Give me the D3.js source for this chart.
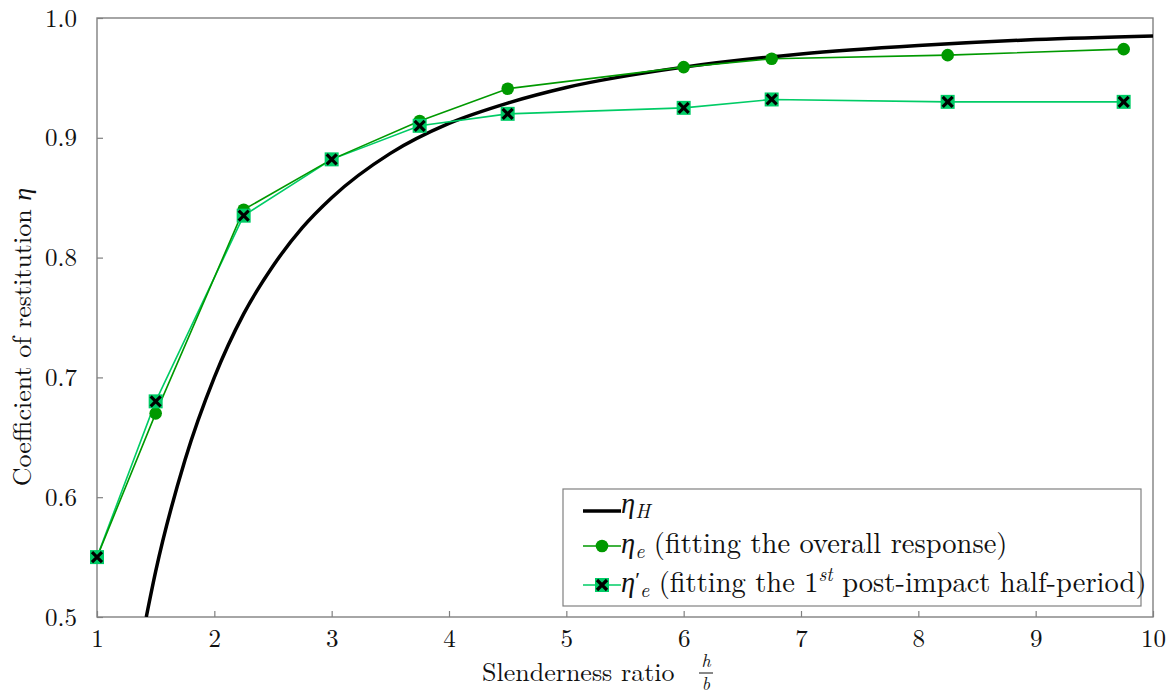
<!DOCTYPE html>
<html><head><meta charset="utf-8">
<script src="https://cdn.jsdelivr.net/npm/d3@7"></script>
<style>body{margin:0;background:#fff}svg{display:block}</style>
</head><body><svg id="c" width="1171" height="697"></svg>
<script>
const xTicks=[1,2,3,4,5,6,7,8,9,10];
const yTicks=[0.5,0.6,0.7,0.8,0.9,1.0];
const xData=[1,1.5,2.25,3,3.75,4.5,6,6.75,8.25,9.75];
const etaE=[0.55,0.67,0.84,0.882,0.914,0.941,0.959,0.966,0.969,0.974];
const etaE1=[0.55,0.68,0.835,0.882,0.91,0.92,0.925,0.932,0.930,0.930];
const hX=[1.42,1.5,1.75,2,2.25,2.5,2.75,3,3.5,4,4.5,5,6,7,8,9,10];
const hY=[0.50,0.538,0.631,0.70,0.753,0.793,0.825,0.85,0.887,0.912,0.929,0.942,0.959,0.970,0.977,0.982,0.985];

const FF="'Latin Modern Roman','Liberation Serif',serif";
const svg=d3.select('#c');
const L=97,R=1153,T=18,B=617;
const x=d3.scaleLinear().domain([1,10]).range([L,R]);
const y=d3.scaleLinear().domain([0.5,1.0]).range([B,T]);
const dark='#009900', light='#00cc66', axc='#808080';

svg.append('defs').append('clipPath').attr('id','clip').append('rect').attr('x',L).attr('y',T).attr('width',R-L).attr('height',B-T);

const gx=svg.append('g').attr('transform',`translate(0,${B})`).call(d3.axisBottom(x).tickValues(xTicks).tickSize(-6).tickPadding(12).tickFormat(d3.format('d')));
const gy=svg.append('g').attr('transform',`translate(${L},0)`).call(d3.axisLeft(y).tickValues(yTicks).tickSize(-6).tickPadding(20).tickFormat(d3.format('.1f')));
[gx,gy].forEach(g=>{g.attr('font-family',FF).attr('font-size',25);g.select('.domain').remove();g.selectAll('line').attr('stroke',axc).attr('stroke-width',1.2);g.selectAll('text').attr('fill','#111');});
svg.append('rect').attr('x',L).attr('y',T).attr('width',R-L).attr('height',B-T).attr('fill','none').attr('stroke',axc).attr('stroke-width',1.4);

const plot=svg.append('g').attr('clip-path','url(#clip)');
const lineH=d3.line().x((d,i)=>x(hX[i])).y(d=>y(d)).curve(d3.curveMonotoneX);
plot.append('path').attr('d',lineH(hY)).attr('fill','none').attr('stroke','#000').attr('stroke-width',3.5);

const ln=d3.line().x((d,i)=>x(xData[i])).y(d=>y(d));
plot.append('path').attr('d',ln(etaE1)).attr('fill','none').attr('stroke',light).attr('stroke-width',1.6);
plot.append('path').attr('d',ln(etaE)).attr('fill','none').attr('stroke',dark).attr('stroke-width',1.6);

function sqX(g,cx,cy){
  g.append('rect').attr('x',cx-7).attr('y',cy-7).attr('width',14).attr('height',14).attr('fill',light);
  g.append('path').attr('d',`M${cx-5},${cy-5}L${cx+5},${cy+5}M${cx-5},${cy+5}L${cx+5},${cy-5}`).attr('stroke','#000').attr('stroke-width',3.2);
}
const ms=svg.append('g');
etaE.forEach((v,i)=>ms.append('circle').attr('cx',x(xData[i])).attr('cy',y(v)).attr('r',6.3).attr('fill',dark));
etaE1.forEach((v,i)=>sqX(ms,x(xData[i]),y(v)));

// legend
const lg=svg.append('g').attr('font-family',FF);
lg.append('rect').attr('x',563).attr('y',489).attr('width',578).attr('height',117).attr('fill','#fff').attr('stroke',axc).attr('stroke-width',1.2);
const rows=[508,546,585];
lg.append('line').attr('x1',583).attr('x2',621).attr('y1',rows[0]+3).attr('y2',rows[0]+3).attr('stroke','#000').attr('stroke-width',3.5);
lg.append('line').attr('x1',583).attr('x2',621).attr('y1',rows[1]).attr('y2',rows[1]).attr('stroke',dark).attr('stroke-width',1.6);
lg.append('circle').attr('cx',602).attr('cy',rows[1]).attr('r',6.3).attr('fill',dark);
lg.append('line').attr('x1',583).attr('x2',621).attr('y1',rows[2]).attr('y2',rows[2]).attr('stroke',light).attr('stroke-width',1.6);
sqX(lg,602,rows[2]);
const fs=28.5, sub=20;
let t=lg.append('text').attr('x',621).attr('y',rows[0]+5).attr('font-size',fs).attr('fill','#111');
t.append('tspan').text('η').attr('font-style','italic');
t.append('tspan').text('H').attr('font-style','italic').attr('font-size',sub).attr('dy',5);
t=lg.append('text').attr('x',621).attr('y',rows[1]+7).attr('font-size',fs).attr('fill','#111');
t.append('tspan').text('η').attr('font-style','italic');
t.append('tspan').text('e').attr('font-style','italic').attr('font-size',sub).attr('dy',5);
t.append('tspan').text(' (fitting the overall response)').attr('dy',-5);
t=lg.append('text').attr('x',621).attr('y',rows[2]+7).attr('font-size',fs).attr('fill','#111');
t.append('tspan').text('η').attr('font-style','italic');
t.append('tspan').text('′').attr('font-size',22).attr('dy',-5);
t.append('tspan').text('e').attr('font-style','italic').attr('font-size',sub).attr('dy',10);
t.append('tspan').text(' (fitting the 1').attr('dy',-5);
t.append('tspan').text('st').attr('font-style','italic').attr('font-size',19).attr('dy',-11);
t.append('tspan').text(' post-impact half-period)').attr('dy',11);

// axis labels
const xl=svg.append('g').attr('font-family',FF).attr('fill','#111');
xl.append('text').attr('x',482).attr('y',681).attr('font-size',26).text('Slenderness ratio');
xl.append('text').attr('x',706).attr('y',667).attr('text-anchor','middle').attr('font-size',18).attr('font-style','italic').text('h');
xl.append('line').attr('x1',699).attr('x2',713).attr('y1',673).attr('y2',673).attr('stroke','#111').attr('stroke-width',1);
xl.append('text').attr('x',706).attr('y',690).attr('text-anchor','middle').attr('font-size',18).attr('font-style','italic').text('b');
const yl=svg.append('text').attr('font-family',FF).attr('fill','#111').attr('transform','translate(31,337) rotate(-90)').attr('text-anchor','middle').attr('font-size',26);
yl.append('tspan').text('Coefficient of restitution ');
yl.append('tspan').text('η').attr('font-style','italic');
</script></body></html>
